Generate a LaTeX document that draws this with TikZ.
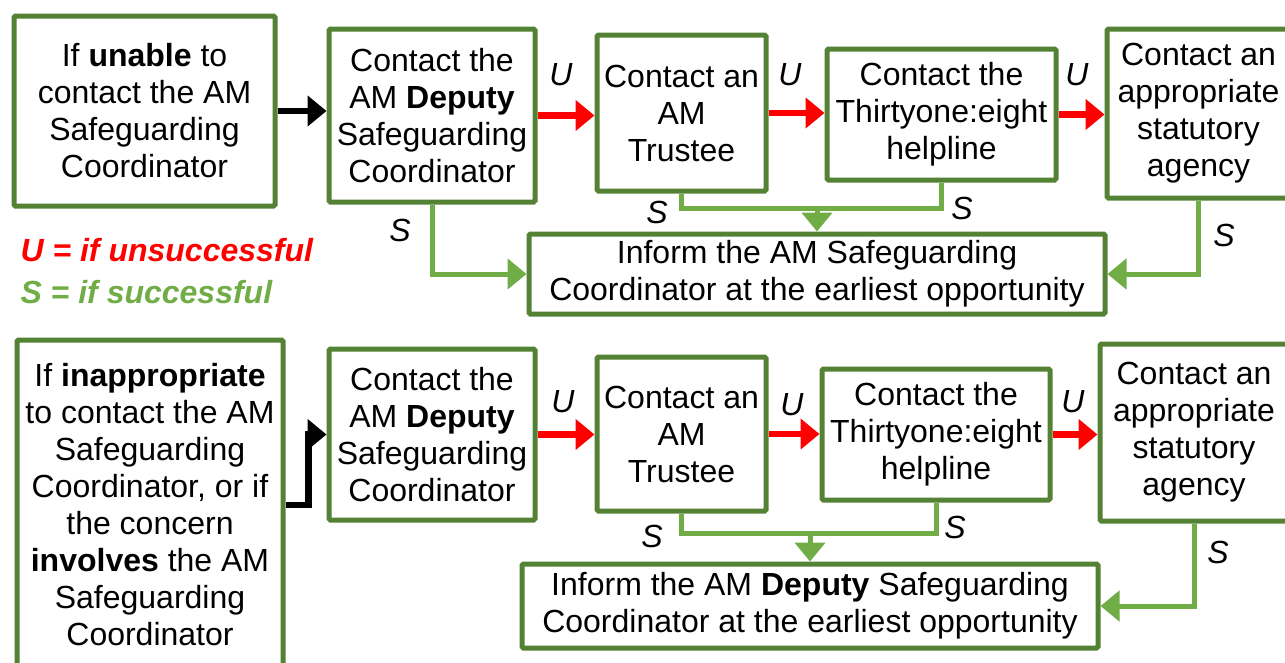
\documentclass[tikz,border=0pt]{standalone}
\usepackage{fontspec}
\setmainfont{Liberation Sans}
\usetikzlibrary{arrows.meta}
\definecolor{boxgreen}{RGB}{84,130,53}
\definecolor{sgreen}{RGB}{112,173,71}
\definecolor{ured}{RGB}{255,0,0}

\begin{document}
\begin{tikzpicture}[x=1pt,y=-1pt,
	box/.style={draw=boxgreen,line width=5pt,rounded corners=1.5pt,fill=white,inner sep=0pt,align=center,font=\fontsize{32}{37}\selectfont},
	goarrow/.style={draw=black,line width=6.5pt,-{Triangle[length=19pt,width=30pt]}},
	uarrow/.style={draw=ured,line width=6.5pt,-{Triangle[length=19pt,width=30pt]}},
	sarrow/.style={draw=sgreen,line width=5pt,-{Triangle[length=19pt,width=30pt]}},
	sline/.style={draw=sgreen,line width=5pt},
	lbl/.style={font=\fontsize{32}{37}\selectfont\itshape}]
	\useasboundingbox (0,0) rectangle (1285,662);
	\clip (0,0) rectangle (1285,662);
	%
	% first route
	\node[box,minimum width=261pt,minimum height=190pt] (unable) at (144.5,111) {If \textbf{unable} to\\contact the AM\\Safeguarding\\Coordinator};
	\node[box,minimum width=206pt,minimum height=173pt] (deputyA) at (432,115.5) {Contact the\\AM \textbf{Deputy}\\Safeguarding\\Coordinator};
	\node[box,minimum width=169pt,minimum height=156pt] (trusteeA) at (681.5,113) {Contact an\\AM\\Trustee};
	\node[box,minimum width=229pt,minimum height=131pt] (helpA) at (941.5,114.5) {Contact the\\Thirtyone:eight\\helpline};
	\node[box,minimum width=183pt,minimum height=169pt] (agencyA) at (1198.5,113.5) {Contact an\\appropriate\\statutory\\agency};
	\node[box,minimum width=576pt,minimum height=80pt] (informA) at (817,274) {Inform the AM Safeguarding\\Coordinator at the earliest opportunity};
	%
	\draw[goarrow] (unable.east) -- (unable.east -| deputyA.west);
	\draw[uarrow] (deputyA.east) -- (deputyA.east -| trusteeA.west);
	\draw[uarrow] (trusteeA.east) -- (trusteeA.east -| helpA.west);
	\draw[uarrow] (helpA.east) -- (helpA.east -| agencyA.west);
	\draw[sarrow] (deputyA.south) |- (informA.west);
	\draw[sline] (trusteeA.south) -- ++(0,15) coordinate (joinA) -| (helpA.south);
	\draw[sarrow] (joinA -| informA.north) -- (informA.north);
	\draw[sarrow] (agencyA.south) |- (informA.east);
	\node[lbl] (uA1) at (561,75) {U};
	\node[lbl] (uA2) at (790,75) {U};
	\node[lbl] (uA3) at (1077,75) {U};
	\node[lbl] (sA1) at (400,230) {S};
	\node[lbl] (sA2) at (657,212) {S};
	\node[lbl] (sA3) at (962,208) {S};
	\node[lbl] (sA4) at (1224,235) {S};
	%
	% key
	\node[lbl,font=\fontsize{32}{37}\selectfont\bfseries\itshape,text=ured,anchor=west] (keyU) at (17,250) {U = if unsuccessful};
	\node[lbl,font=\fontsize{32}{37}\selectfont\bfseries\itshape,text=sgreen,anchor=west] (keyS) at (17,292) {S = if successful};
	%
	% second route
	\node[box,minimum width=266pt,minimum height=330pt] (inapprop) at (150,505) {If \textbf{inappropriate}\\to contact the AM\\Safeguarding\\Coordinator, or if\\the concern\\\textbf{involves} the AM\\Safeguarding\\Coordinator};
	\node[box,minimum width=206pt,minimum height=171pt] (deputyB) at (432,434.5) {Contact the\\AM \textbf{Deputy}\\Safeguarding\\Coordinator};
	\node[box,minimum width=169pt,minimum height=154pt] (trusteeB) at (681.5,434) {Contact an\\AM\\Trustee};
	\node[box,minimum width=228pt,minimum height=131pt] (helpB) at (936,434.5) {Contact the\\Thirtyone:eight\\helpline};
	\node[box,minimum width=188pt,minimum height=177pt] (agencyB) at (1194,432.5) {Contact an\\appropriate\\statutory\\agency};
	\node[box,minimum width=576pt,minimum height=84pt] (informB) at (810,606) {Inform the AM \textbf{Deputy} Safeguarding\\Coordinator at the earliest opportunity};
	%
	\draw[goarrow] (inapprop.east) -- ++(23,0) |- (deputyB.west);
	\draw[uarrow] (deputyB.east) -- (deputyB.east -| trusteeB.west);
	\draw[uarrow] (trusteeB.east) -- (trusteeB.east -| helpB.west);
	\draw[uarrow] (helpB.east) -- (helpB.east -| agencyB.west);
	\draw[sline] (trusteeB.south) -- ++(0,20) coordinate (joinB) -| (helpB.south);
	\draw[sarrow] (joinB -| informB.north) -- (informB.north);
	\draw[sarrow] (agencyB.south) |- (informB.east);
	\node[lbl] (uB1) at (563,402) {U};
	\node[lbl] (uB2) at (792,405) {U};
	\node[lbl] (uB3) at (1073,402) {U};
	\node[lbl] (sB1) at (652,536) {S};
	\node[lbl] (sB2) at (955,527) {S};
	\node[lbl] (sB3) at (1218,552) {S};
\end{tikzpicture}
\end{document}
